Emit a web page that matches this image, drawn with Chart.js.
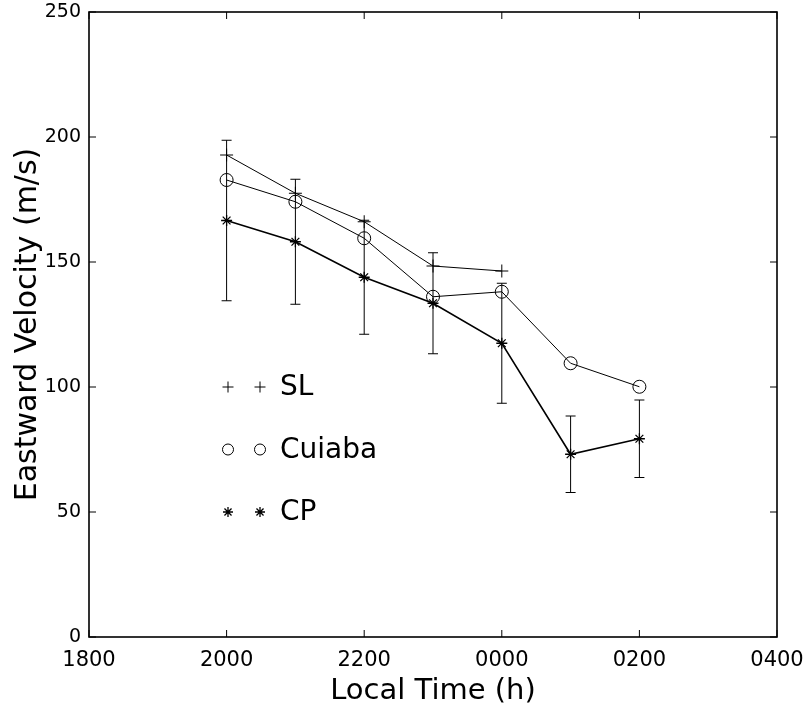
<!DOCTYPE html>
<html>
<head>
<meta charset="utf-8">
<script src="https://cdn.jsdelivr.net/npm/chart.js@4.4.1/dist/chart.umd.min.js"></script>
<style>
    html, body { margin: 0; padding: 0; background: #fff; }
    .con { width: 808px; height: 715px; }
</style>
</head>
<body>
<div class="con"><canvas id="chart" width="808" height="715"></canvas></div>
<script>
// hours after midnight of the previous day (24 = 0000)
const hours = [20, 21, 22, 23, 24, 25, 26]
const slValues = [192.8, 177.5, 166.1, 148.4, 146.4, null, null]
const cuiabaValues = [182.8, 174.1, 159.5, 136.1, 138.1, 109.5, 100.1]
const cpValues = [166.6, 158.1, 143.9, 133.5, 117.5, 73.1, 79.3]
const cpErrors = [32.1, 25.0, 22.8, 20.2, 24.0, 15.3, 15.5]
const xTicks = [18, 20, 22, 24, 26, 28]
const yTicks = [0, 50, 100, 150, 200, 250]
const legendNames = ['SL', 'Cuiaba', 'CP']

const font = "'DejaVu Sans', sans-serif"

function toPoints(values){
    return values.map((v, i) => ({x: hours[i], y: v}))
}
function hourLabel(h){
    const hh = h % 24
    return (hh < 10 ? '0' : '') + hh + '00'
}

// error bars of CP, inward ticks, box and the legend
const extras = {
    id: 'extras',
    afterDatasetsDraw(chart){
        const ctx = chart.ctx
        const xs = chart.scales.x, ys = chart.scales.y
        const a = chart.chartArea
        ctx.save()
        ctx.strokeStyle = '#000'
        ctx.lineWidth = 1
        cpValues.forEach((v, i) => {
            const x = xs.getPixelForValue(hours[i])
            const top = ys.getPixelForValue(v + cpErrors[i])
            const bot = ys.getPixelForValue(v - cpErrors[i])
            ctx.beginPath()
            ctx.moveTo(x, top); ctx.lineTo(x, bot)
            ctx.moveTo(x - 5, top); ctx.lineTo(x + 5, top)
            ctx.moveTo(x - 5, bot); ctx.lineTo(x + 5, bot)
            ctx.stroke()
        })
        // ticks pointing inward
        xTicks.forEach(t => {
            const x = xs.getPixelForValue(t)
            ctx.beginPath()
            ctx.moveTo(x, a.bottom); ctx.lineTo(x, a.bottom - 7)
            ctx.moveTo(x, a.top); ctx.lineTo(x, a.top + 7)
            ctx.stroke()
        })
        yTicks.forEach(t => {
            const y = ys.getPixelForValue(t)
            ctx.beginPath()
            ctx.moveTo(a.left, y); ctx.lineTo(a.left + 7, y)
            ctx.moveTo(a.right, y); ctx.lineTo(a.right - 7, y)
            ctx.stroke()
        })
        ctx.lineWidth = 1.6
        ctx.strokeRect(a.left, a.top, a.right - a.left, a.bottom - a.top)

        // legend
        const styles = [{pointStyle: 'cross', radius: 5.5}, {pointStyle: 'circle', radius: 5.5}, {pointStyle: 'star', radius: 5}]
        ctx.font = "28px " + font
        ctx.textBaseline = 'middle'
        legendNames.forEach((name, i) => {
            const y = a.top + 375 + i * 62.5
            styles[i].borderWidth = 1
            styles[i].rotation = 0
            ctx.strokeStyle = '#000'
            ctx.fillStyle = 'rgba(0,0,0,0)'
            ctx.lineWidth = i == 2 ? 1.3 : 1
            Chart.helpers.drawPoint(ctx, styles[i], a.left + 139, y)
            Chart.helpers.drawPoint(ctx, styles[i], a.left + 171, y)
            ctx.fillStyle = '#000'
            ctx.fillText(name, a.left + 191, y + 1)
        })
        ctx.restore()
    }
}

const ctx = document.getElementById('chart').getContext('2d')
const myChart = new Chart(ctx, {
    type: 'line',
    data: {
        datasets: [{
            label: 'SL',
            data: toPoints(slValues),
            borderColor: '#000',
            borderWidth: 1,
            pointStyle: 'cross',
            pointRadius: 6.5,
            pointBorderColor: '#000',
            pointBorderWidth: 1
        }, {
            label: 'Cuiaba',
            data: toPoints(cuiabaValues),
            borderColor: '#000',
            borderWidth: 1,
            pointStyle: 'circle',
            pointRadius: 6.5,
            pointBackgroundColor: 'rgba(0,0,0,0)',
            pointBorderColor: '#000',
            pointBorderWidth: 1
        }, {
            label: 'CP',
            data: toPoints(cpValues),
            borderColor: '#000',
            borderWidth: 1.6,
            pointStyle: 'star',
            pointRadius: 5.5,
            pointBorderColor: '#000',
            pointBorderWidth: 1.3
        }]
    },
    options: {
        responsive: false,
        animation: false,
        events: [],
        layout: {padding: {left: 0, top: 12, right: 31, bottom: 0}},
        plugins: {legend: {display: false}, tooltip: {enabled: false}},
        scales: {
            x: {
                type: 'linear',
                min: 18, max: 28,
                afterBuildTicks: s => { s.ticks = xTicks.map(v => ({value: v})) },
                afterFit: s => { s.height = 78; s.paddingLeft = 0; s.paddingRight = 0 },
                grid: {display: false, drawTicks: false},
                border: {display: false},
                ticks: {
                    color: '#000', padding: 11, maxRotation: 0, autoSkip: false,
                    font: {family: font, size: 21},
                    callback: v => hourLabel(v)
                },
                title: {
                    display: true, text: 'Local Time (h)', color: '#000',
                    font: {family: font, size: 29}, padding: {top: 0, bottom: 6}
                }
            },
            y: {
                min: 0, max: 250,
                afterBuildTicks: s => { s.ticks = yTicks.map(v => ({value: v})) },
                afterFit: s => { s.width = 89; s.paddingTop = 0; s.paddingBottom = 0 },
                grid: {display: false, drawTicks: false},
                border: {display: false},
                ticks: {
                    color: '#000', padding: 8, autoSkip: false,
                    font: {family: font, size: 19}
                },
                title: {
                    display: true, text: 'Eastward Velocity (m/s)', color: '#000',
                    font: {family: font, size: 30}, padding: {top: 10, bottom: 0}
                }
            }
        }
    },
    plugins: [extras]
})
</script>
</body>
</html>
